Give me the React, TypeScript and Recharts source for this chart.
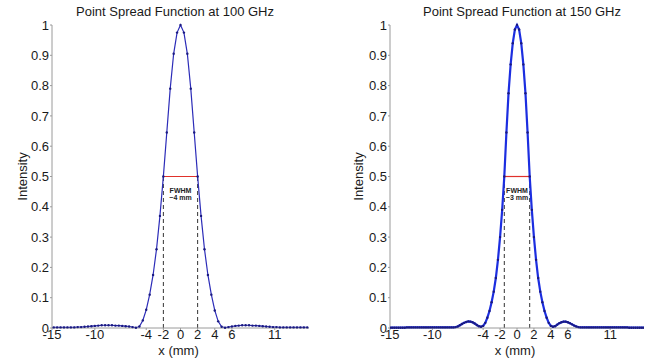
import React from 'react';
import { LineChart, Line, XAxis, YAxis, ReferenceLine, ReferenceDot } from 'recharts';

// sample positions (mm)
const leftX = Array.from({ length: 75 }, (_, i) => +(-14.8 + 0.4 * i).toFixed(1));
const rightX = Array.from({ length: 121 }, (_, i) => +(-15 + 0.25 * i).toFixed(2));

// 100 GHz intensity (-14.8 .. 14.8 step 0.4)
const psf100 = [
  0.002, 0.002, 0.002, 0.002, 0.002, 0.002, 0.002, 0.003, 0.003, 0.004,
  0.005, 0.006, 0.007, 0.008, 0.009, 0.009, 0.009, 0.009, 0.008, 0.008,
  0.007, 0.006, 0.005, 0.003, 0.001, 0.005, 0.025, 0.06, 0.11, 0.175,
  0.26, 0.37, 0.5, 0.645, 0.79, 0.905, 0.975,
  1.0,
  0.975, 0.905, 0.79, 0.645, 0.5, 0.37, 0.26, 0.175, 0.11, 0.058,
  0.022, 0.004, 0.001, 0.003, 0.005, 0.007, 0.008, 0.009, 0.009, 0.009,
  0.008, 0.008, 0.007, 0.006, 0.005, 0.004, 0.003, 0.003, 0.002, 0.002,
  0.002, 0.002, 0.002, 0.002, 0.002, 0.002, 0.002,
];

// 150 GHz intensity (-15 .. 15 step 0.25)
const psf150 = [
  0.001, 0.001, 0.001, 0.001, 0.001, 0.001, 0.001, 0.001, 0.002, 0.002,
  0.002, 0.002, 0.002, 0.002, 0.002, 0.002, 0.002, 0.002, 0.002, 0.002,
  0.002, 0.002, 0.002, 0.002, 0.002, 0.002, 0.002, 0.002, 0.002, 0.002,
  0.002, 0.003, 0.005, 0.009, 0.013, 0.017, 0.02, 0.022, 0.021, 0.019,
  0.015, 0.01, 0.006, 0.004, 0.007, 0.017, 0.034, 0.056, 0.085, 0.12,
  0.165, 0.225, 0.3, 0.39, 0.5, 0.645, 0.775, 0.87, 0.94, 0.985,
  1.0,
  0.985, 0.94, 0.87, 0.775, 0.645, 0.5, 0.39, 0.3, 0.225, 0.165,
  0.12, 0.085, 0.056, 0.034, 0.017, 0.007, 0.004, 0.006, 0.011, 0.016,
  0.019, 0.021, 0.021, 0.019, 0.016, 0.012, 0.008, 0.005, 0.003, 0.002,
  0.002, 0.002, 0.002, 0.002, 0.002, 0.002, 0.002, 0.002, 0.002, 0.002,
  0.002, 0.002, 0.002, 0.002, 0.002, 0.002, 0.002, 0.002, 0.002, 0.002,
  0.002, 0.002, 0.001, 0.001, 0.001, 0.001, 0.001, 0.001, 0.001, 0.001,
];

const xTicks = [-15, -10, -4, -2, 0, 2, 4, 6, 11];
const yTicks = [0, 0.1, 0.2, 0.3, 0.4, 0.5, 0.6, 0.7, 0.8, 0.9, 1];
const fwhm100 = 2; // half width, mm
const fwhm150 = 1.5;

const font = 'Arial, "Liberation Sans", sans-serif';
const tickStyle = { fill: '#1a1a1a', fontSize: 13, fontFamily: font };

const yLabel = (dx: number) => (props: any) => {
  const { x, y, height } = props.viewBox;
  const cx = x + dx;
  const cy = y + height / 2;
  return (
    <text x={cx} y={cy} transform={`rotate(-90 ${cx} ${cy})`} textAnchor="middle"
      dominantBaseline="central" fontSize={13} fontFamily={font} fill="#1a1a1a">
      Intensity
    </text>
  );
};

const xLabel = (props: any) => {
  const { x, y, width } = props.viewBox;
  return (
    <text x={x + width / 2 - 2} y={y + 22} textAnchor="middle" dominantBaseline="central"
      fontSize={13} fontFamily={font} fill="#1a1a1a">
      x (mm)
    </text>
  );
};

const fwhmText = (txt: string) => (props: any) => (
  <g>
    <text x={props.cx} y={props.cy} textAnchor="middle" fontSize={7} fontWeight="bold"
      fontFamily={font} fill="#222">FWHM</text>
    <text x={props.cx} y={props.cy + 7} textAnchor="middle" fontSize={7} fontWeight="bold"
      fontFamily={font} fill="#222">{txt}</text>
  </g>
);

interface PanelProps {
  xs: number[];
  ys: number[];
  half: number;
  note: string;
  left: number;
  width: number;
  yWidth: number;
  rightMargin: number;
  labelDx: number;
  stroke: string;
  strokeWidth: number;
}

const Panel: React.FC<PanelProps> = ({ xs, ys, half, note, left, width, yWidth, rightMargin, labelDx, stroke, strokeWidth }) => {
  const data = xs.map((x, i) => ({ x, y: ys[i] }));
  return (
    <div style={{ position: 'absolute', left, top: 0 }}>
      <LineChart width={width} height={358} data={data}
        margin={{ top: 25, right: rightMargin, left: 0, bottom: 0 }}>
        <XAxis dataKey="x" type="number" domain={[-15, 15]} ticks={xTicks} interval={0}
          allowDataOverflow height={30} tick={tickStyle} tickSize={2} tickMargin={0}
          axisLine={{ stroke: '#9a9a9a' }} tickLine={{ stroke: '#9a9a9a' }} label={{ content: xLabel }} />
        <YAxis type="number" domain={[0, 1]} ticks={yTicks} interval={0} width={yWidth}
          tick={tickStyle} tickSize={2} tickMargin={1}
          tickFormatter={(v: number) => String(+v.toFixed(1))}
          axisLine={{ stroke: '#9a9a9a' }} tickLine={{ stroke: '#9a9a9a' }} label={{ content: yLabel(labelDx) }} />
        <ReferenceLine segment={[{ x: -half, y: 0 }, { x: -half, y: 0.5 }]} stroke="#333"
          strokeDasharray="4 3" strokeWidth={1} />
        <ReferenceLine segment={[{ x: half, y: 0 }, { x: half, y: 0.5 }]} stroke="#333"
          strokeDasharray="4 3" strokeWidth={1} />
        <Line dataKey="y" type="linear" stroke={stroke} strokeWidth={strokeWidth}
          dot={{ r: 1.2, fill: '#1a1a80', stroke: 'none' }} isAnimationActive={false} />
        <ReferenceLine segment={[{ x: -half, y: 0.5 }, { x: half, y: 0.5 }]} stroke="#e0312b"
          strokeWidth={1.2} />
        <ReferenceDot x={0} y={0.447} r={0} shape={fwhmText(note)} />
      </LineChart>
    </div>
  );
};

const titleStyle: React.CSSProperties = {
  position: 'absolute', top: 4, width: 300, textAlign: 'center',
  fontFamily: font, fontSize: 13, lineHeight: '15px', color: '#1a1a1a',
};

export default function App() {
  return (
    <div style={{ position: 'absolute', left: 0, top: 0, width: 655, height: 358, background: '#fff', overflow: 'hidden' }}>
      <Panel xs={leftX} ys={psf100} half={fwhm100} note="~4 mm" left={0} width={327} yWidth={52}
        rightMargin={18} labelDx={22} stroke="#2c2cb8" strokeWidth={1.2} />
      <Panel xs={rightX} ys={psf150} half={fwhm150} note="~3 mm" left={330} width={325} yWidth={60}
        rightMargin={11} labelDx={28} stroke="#1c2ee0" strokeWidth={2.2} />
      <div style={{ ...titleStyle, left: 25 }}>Point Spread Function at 100 GHz</div>
      <div style={{ ...titleStyle, left: 372 }}>Point Spread Function at 150 GHz</div>
    </div>
  );
}
